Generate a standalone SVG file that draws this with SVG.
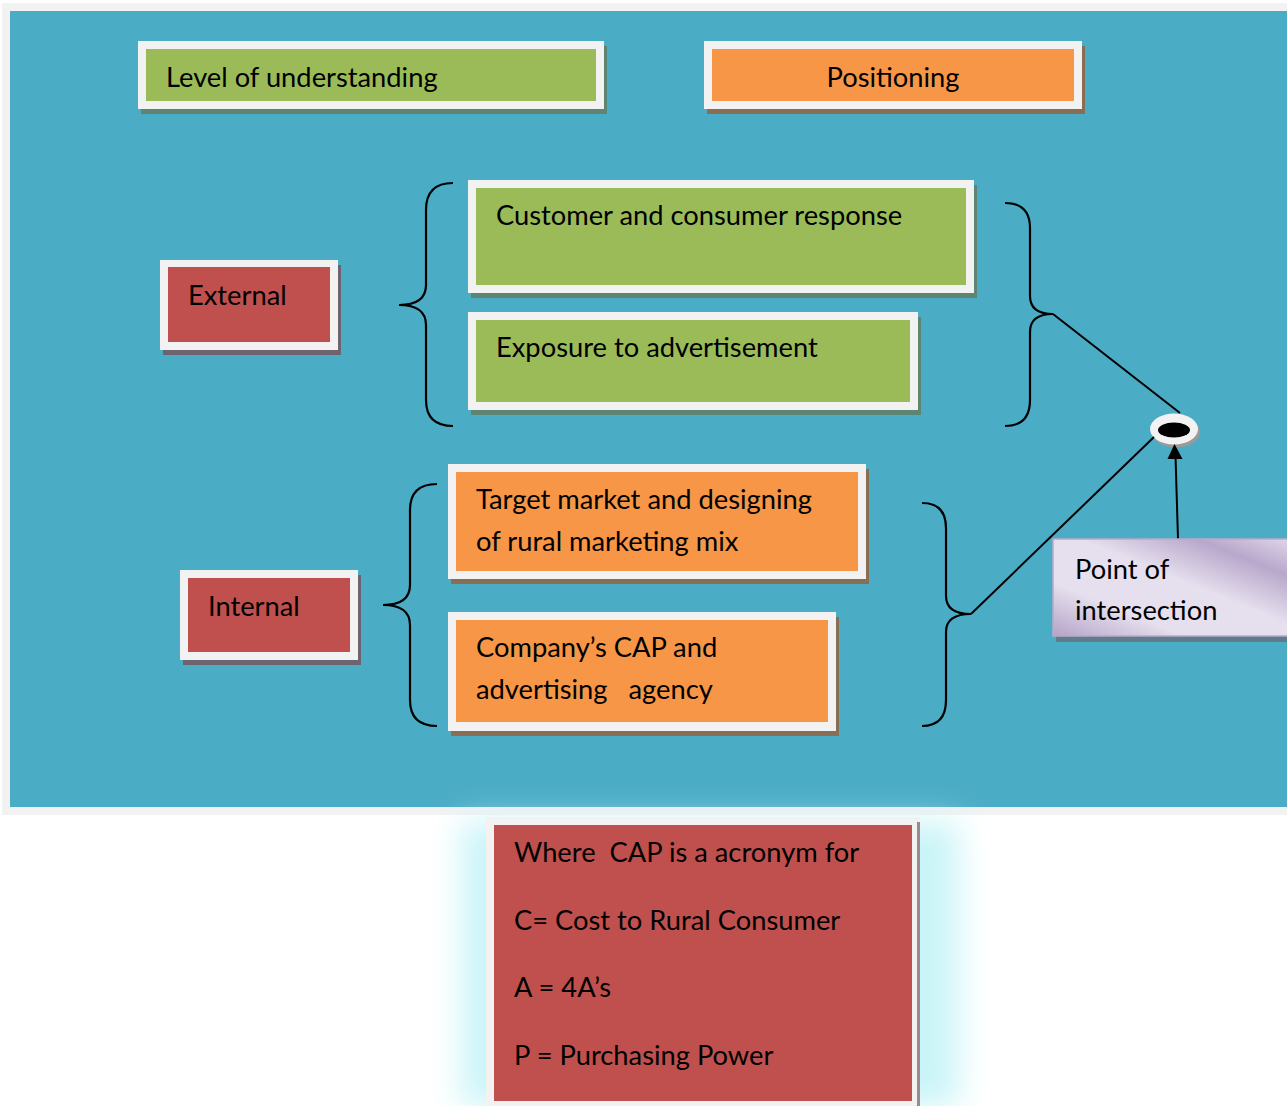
<svg xmlns="http://www.w3.org/2000/svg" width="1287" height="1106" viewBox="0 0 1287 1106">
<defs>
<style>
text{font-family:Lato,"Open Sans","Liberation Sans",sans-serif;font-size:27.3px;fill:#000}
.frame{fill:#f2f2f2}
.green{fill:#9bbb59}
.orange{fill:#f79646}
.red{fill:#c0504d}
.shg{fill:#5e8574}
.sho{fill:#8a6d55}
.shr{fill:#6e6470}
.brace{fill:none;stroke:#000;stroke-width:2.2}
.conn{fill:none;stroke:#000;stroke-width:2}
</style>
<linearGradient id="lilac" x1="0" y1="1" x2="1" y2="0">
<stop offset="0" stop-color="#b4a3c8"/>
<stop offset="0.28" stop-color="#e6e0ee"/>
<stop offset="0.55" stop-color="#e6e0ee"/>
<stop offset="0.8" stop-color="#b8a7cb"/>
<stop offset="1" stop-color="#e0d8ea"/>
</linearGradient>
<filter id="blur" x="-30%" y="-30%" width="160%" height="160%"><feGaussianBlur stdDeviation="16"/></filter>
</defs>

<rect x="0" y="0" width="1287" height="1106" fill="#fff"/>
<rect x="2" y="3" width="1285" height="812" fill="#f2f2f2"/>
<rect x="10" y="11" width="1277" height="796" fill="#4bacc6"/>

<g id="level">
<rect class="shg" x="141" y="46" width="466" height="68"/>
<rect class="frame" x="138" y="41" width="466" height="68"/>
<rect class="green" x="146" y="49" width="450" height="52"/>
<text x="166" y="87">Level of understanding</text>
</g>
<g id="positioning">
<rect class="sho" x="707" y="46" width="378" height="68"/>
<rect class="frame" x="704" y="41" width="378" height="68"/>
<rect class="orange" x="712" y="49" width="362" height="52"/>
<text x="893" y="87" text-anchor="middle">Positioning</text>
</g>
<g id="customer">
<rect class="shg" x="471" y="185" width="506" height="113"/>
<rect class="frame" x="468" y="180" width="506" height="113"/>
<rect class="green" x="476" y="188" width="490" height="97"/>
<text x="496" y="225">Customer and consumer response</text>
</g>
<g id="exposure">
<rect class="shg" x="471" y="317" width="450" height="98"/>
<rect class="frame" x="468" y="312" width="450" height="98"/>
<rect class="green" x="476" y="320" width="434" height="82"/>
<text x="496" y="357">Exposure to advertisement</text>
</g>
<g id="external">
<rect class="shr" x="163" y="265" width="178" height="90"/>
<rect class="frame" x="160" y="260" width="178" height="90"/>
<rect class="red" x="168" y="267" width="162" height="75"/>
<text x="188" y="305">External</text>
</g>
<g id="target">
<rect class="sho" x="451" y="469" width="418" height="115"/>
<rect class="frame" x="448" y="464" width="418" height="115"/>
<rect class="orange" x="456" y="472" width="402" height="99"/>
<text x="476" y="509">Target market and designing</text>
<text x="476" y="551">of rural marketing mix</text>
</g>
<g id="company">
<rect class="sho" x="451" y="617" width="388" height="119"/>
<rect class="frame" x="448" y="612" width="388" height="119"/>
<rect class="orange" x="456" y="620" width="372" height="102"/>
<text x="476" y="657">Company’s CAP and</text>
<text x="476" y="699" xml:space="preserve">advertising   agency</text>
</g>
<g id="internal">
<rect class="shr" x="183" y="575" width="178" height="90"/>
<rect class="frame" x="180" y="570" width="178" height="90"/>
<rect class="red" x="188" y="578" width="162" height="74"/>
<text x="208" y="616">Internal</text>
</g>

<g id="intersection-dot">
<ellipse cx="1176" cy="432" rx="24" ry="15.5" fill="#9a9a9a"/>
<ellipse cx="1174" cy="429" rx="24" ry="15.5" fill="#f2f2f2"/>
<ellipse cx="1174" cy="430" rx="16" ry="7.5" fill="#000"/>
</g>

<g id="connectors">
<path class="brace" d="M453,183 Q426,183 426,210 L426,285 Q426,305 399,305 Q426,305 426,325 L426,400 Q426,426 453,426"/>
<path class="brace" d="M437,484 Q410,484 410,510 L410,585 Q410,605 383,605 Q410,605 410,625 L410,700 Q410,726 437,726"/>
<path class="brace" d="M1005,203 Q1030,203 1030,228 L1030,296 Q1030,314 1053,314 Q1030,314 1030,332 L1030,400 Q1030,426 1005,426"/>
<path class="brace" d="M922,503 Q946,503 946,528 L946,596 Q946,614 971,614 Q946,614 946,632 L946,700 Q946,726 922,726"/>
<line class="conn" x1="1053" y1="314" x2="1180" y2="413"/>
<line class="conn" x1="971" y1="614" x2="1154" y2="437"/>
<line class="conn" x1="1178" y1="539" x2="1175.5" y2="456"/>
<polygon points="1174.5,444 1182.5,459 1167.5,459" fill="#000"/>
</g>

<g id="point">
<rect x="1056" y="542" width="240" height="100" fill="#5f7c8a"/>
<rect x="1053" y="539" width="240" height="97" fill="url(#lilac)" stroke="#b9a9cc" stroke-width="1.5"/>
<text x="1075" y="579">Point of</text>
<text x="1075" y="620">intersection</text>
</g>

<g id="cap-note">
<rect x="462" y="822" width="496" height="284" fill="#c9f4f8" filter="url(#blur)"/>
<rect class="frame" x="486" y="817" width="434" height="289"/>
<rect x="917" y="822" width="3" height="284" fill="#9a8a8a"/>
<rect class="red" x="494" y="825" width="418" height="276"/>
<text x="514" y="862" xml:space="preserve">Where  CAP is a acronym for</text>
<text x="514" y="930">C= Cost to Rural Consumer</text>
<text x="514" y="997">A = 4A’s</text>
<text x="514" y="1065">P = Purchasing Power</text>
</g>
</svg>
